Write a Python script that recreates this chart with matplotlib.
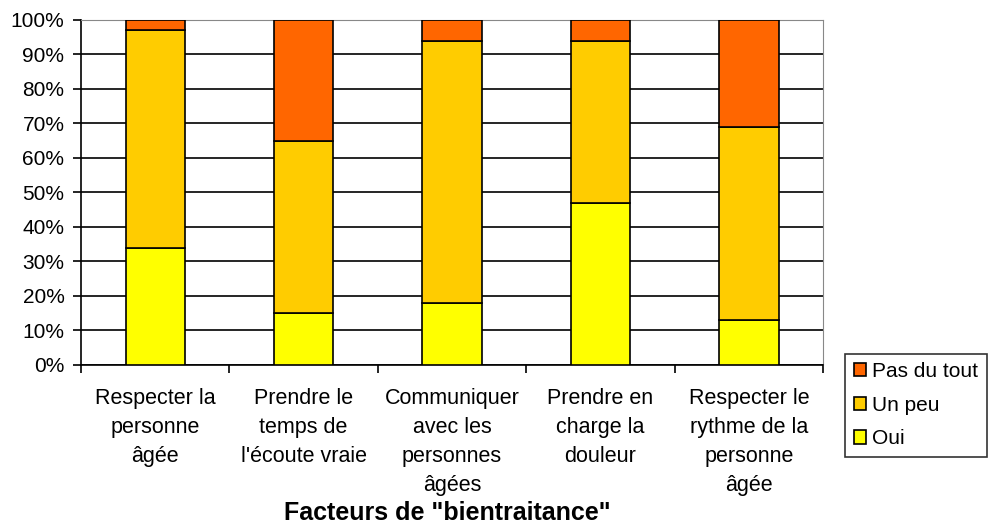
import numpy as np
import matplotlib.pyplot as plt
from matplotlib.ticker import PercentFormatter, FixedLocator

categories = ["Respecter la\npersonne\nâgée",
              "Prendre le\ntemps de\nl'écoute vraie",
              "Communiquer\navec les\npersonnes\nâgées",
              "Prendre en\ncharge la\ndouleur",
              "Respecter le\nrythme de la\npersonne\nâgée"]
oui = [34, 15, 18, 47, 13]
un_peu = [63, 50, 76, 47, 56]
pas_du_tout = [3, 35, 6, 6, 31]

plt.rcParams['font.family'] = ['Liberation Sans', 'DejaVu Sans']

fig = plt.figure(figsize=(9.92, 5.25), dpi=100)
ax = fig.add_axes([0.0817, 0.305, 0.748, 0.657])

x = np.arange(len(categories))
w = 0.4
kw = dict(width=w, edgecolor='black', linewidth=1.2, zorder=3)
b1 = ax.bar(x, oui, color='#FFFF00', label='Oui', **kw)
b2 = ax.bar(x, un_peu, bottom=oui, color='#FFCC00', label='Un peu', **kw)
b3 = ax.bar(x, pas_du_tout, bottom=np.add(oui, un_peu), color='#FF6600',
            label='Pas du tout', **kw)

ax.set_xlim(-0.5, len(categories) - 0.5)
ax.set_ylim(0, 100)
ax.set_yticks(np.arange(0, 101, 10))
ax.yaxis.set_major_formatter(PercentFormatter(decimals=0))
ax.grid(axis='y', color='black', linewidth=1.2, zorder=0)

# ticks between categories, labels centred under the bars
ax.xaxis.set_major_locator(FixedLocator(np.arange(-0.5, len(categories), 1)))
ax.xaxis.set_minor_locator(FixedLocator(x))
ax.set_xticklabels([])
ax.set_xticklabels(categories, minor=True, fontsize=15.5, linespacing=1.5,
                   va='top', ha='center')
ax.tick_params(axis='x', which='minor', length=0, pad=17)
ax.tick_params(axis='x', which='major', length=6, width=1.2, direction='out')
ax.tick_params(axis='y', length=6, width=1.2, labelsize=15, pad=6)

for s in ['top', 'right']:
    ax.spines[s].set_color('#888888')
for s in ['left', 'bottom']:
    ax.spines[s].set_linewidth(1.2)

fig.text(447 / 992, 1 - 520 / 525, 'Facteurs de "bientraitance"',
         fontsize=18, fontweight='bold', ha='center', va='baseline')

leg = ax.legend(handles=[b3, b2, b1], loc='upper left',
                bbox_to_anchor=(1.03, 0.032), fontsize=15, frameon=True,
                fancybox=False, edgecolor='black', handlelength=0.6,
                handleheight=0.6, handletextpad=0.3, borderpad=0.4,
                labelspacing=0.7, borderaxespad=0)
leg.get_frame().set_linewidth(1.2)

fig.savefig('out.png', dpi=100)
